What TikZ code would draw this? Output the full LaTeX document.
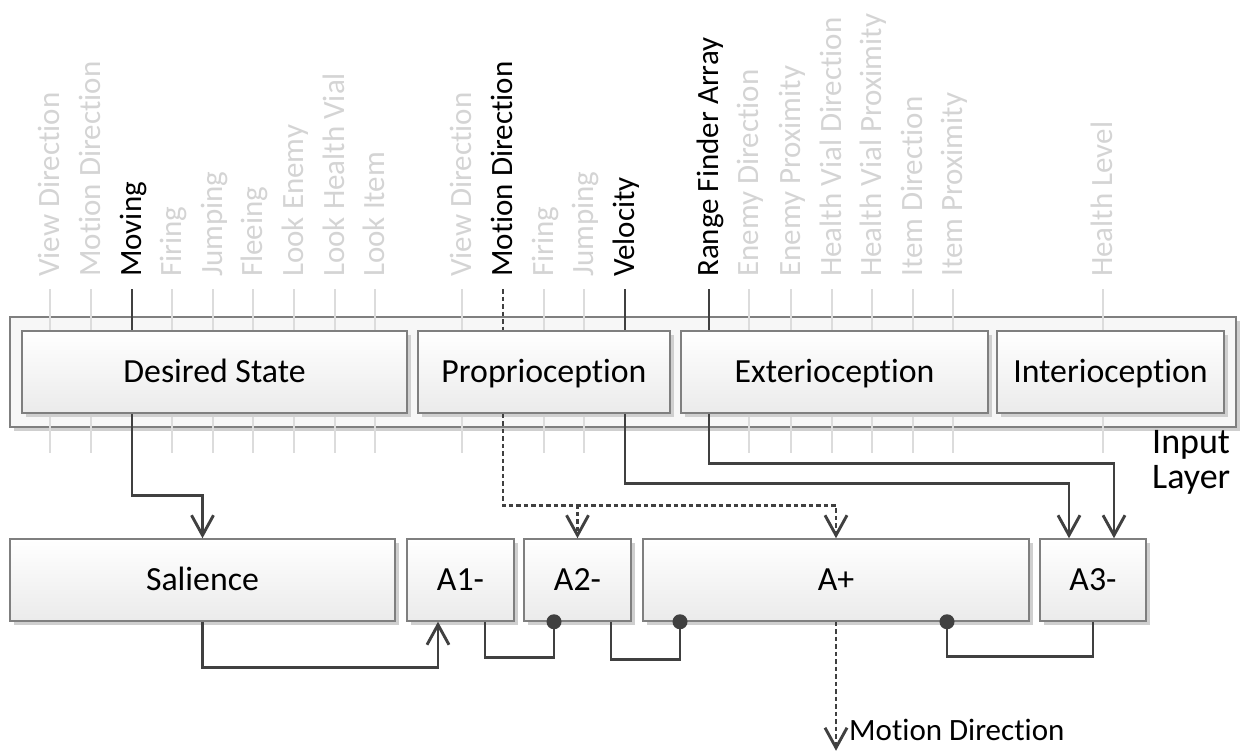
\documentclass[tikz,border=0pt]{standalone}
\usepackage{fontspec}
\setmainfont{Carlito}[Ligatures={NoCommon,NoRequired,NoContextual}]
\usetikzlibrary{arrows.meta,shadows}

\definecolor{linec}{HTML}{404040}
\definecolor{boxedge}{HTML}{7F7F7F}
\definecolor{faint}{HTML}{D4D4D4}
\definecolor{tickc}{HTML}{DCDCDC}
\definecolor{shadowc}{HTML}{CFCFCF}

\tikzset{
  unitbox/.style={draw=boxedge, line width=1.5pt, top color=white, bottom color=black!8,
    minimum height=82pt, inner sep=0pt, font=\fontsize{33.8}{34}\selectfont,
    text height=21.8pt, text depth=0pt,
    drop shadow={shadow xshift=4pt, shadow yshift=-4pt, fill=shadowc, opacity=1}},
  layerbox/.style={draw=boxedge, line width=1.5pt, fill=black!3, inner sep=0pt,
    minimum width=1226pt, minimum height=110pt,
    drop shadow={shadow xshift=4pt, shadow yshift=-4pt, fill=shadowc, opacity=1}},
  conn/.style={draw=linec, line width=2.9pt},
  dconn/.style={conn, dash pattern=on 4.5pt off 3pt},
  arr/.style={-{Straight Barb[length=20pt,width=22pt]}},
  tickline/.style={draw=tickc, line width=1.5pt},
  inlabel/.style={rotate=90, anchor=base west, inner sep=0pt, font=\fontsize{31}{31}\selectfont},
  plainlabel/.style={anchor=base west, inner sep=0pt},
}

\begin{document}
\begin{tikzpicture}[x=1pt,y=-1pt]
\useasboundingbox (0,0) rectangle (1250,752);

% input layer frame
\node[layerbox] (layer) at (623,372) {};

% input signals: coordinates and rotated names
\foreach \n/\x/\t/\c in {
  1/50/View Direction/faint, 2/91/Motion Direction/faint, 3/132/Moving/black,
  4/172/Firing/faint, 5/213/Jumping/faint, 6/253/Fleeing/faint,
  7/294/Look Enemy/faint, 8/335/Look Health Vial/faint, 9/375/Look Item/faint,
  10/462/View Direction/faint, 11/503/Motion Direction/black, 12/544/Firing/faint,
  13/584/Jumping/faint, 14/625/Velocity/black,
  15/709/Range Finder Array/black, 16/749/Enemy Direction/faint,
  17/791/Enemy Proximity/faint, 18/832/Health Vial Direction/faint,
  19/872/Health Vial Proximity/faint, 20/913/Item Direction/faint,
  21/953/Item Proximity/faint, 22/1103/Health Level/faint}
{
  \coordinate (t\n) at (\x,289);
  \node[inlabel, text=\c] (lab\n) at (\x+9,277) {\t};
}

% unused signal lines
\foreach \n in {1,2,4,5,6,7,8,9,10,12,13,16,17,18,19,20,21,22}
  \draw[tickline] (t\n) -- ++(0,164);

% input groups
\node[unitbox, minimum width=385pt] (ds) at (214.5,372) {Desired State};
\node[unitbox, minimum width=252pt] (pro) at (544,372) {Proprioception};
\node[unitbox, minimum width=307pt] (ext) at (834.5,372) {Exterioception};
\node[unitbox, minimum width=227pt] (int) at (1110.5,372) {Interioception};

\node[plainlabel, font=\fontsize{36}{36}\selectfont] (inlay1) at (1152,453) {Input};
\node[plainlabel, font=\fontsize{36}{36}\selectfont] (inlay2) at (1152,488) {Layer};

% processing units
\node[unitbox, minimum width=385pt] (sal) at (202.5,580) {Salience};
\node[unitbox, minimum width=107pt] (a1) at (460.5,580) {A1-};
\node[unitbox, minimum width=107pt] (a2) at (577.5,580) {A2-};
\node[unitbox, minimum width=386pt] (ap) at (836,580) {A+};
\node[unitbox, minimum width=106pt] (a3) at (1093,580) {A3-};

% active signals entering the groups
\draw[conn] (t3) -- (ds.north -| t3);
\draw[dconn] (t11) -- (pro.north -| t11);
\draw[conn] (t14) -- (pro.north -| t14);
\draw[conn] (t15) -- (ext.north -| t15);

% routes out of the input layer
\draw[conn,arr] (ds.south -| t3) -- ++(0,82) -| (sal.north);
\draw[conn,arr] (pro.south -| t14) -- ++(0,70) -| ([xshift=-24pt]a3.north);
\draw[conn,arr] (ext.south -| t15) -- ++(0,50) -| ([xshift=21pt]a3.north);
\draw[dconn,arr] (pro.south -| t11) -- ++(0,92) -| (ap.north);
\coordinate (mdj) at ([yshift=34pt]a2.north);
\draw[dconn,arr] (mdj) -- (a2.north);

% links between units
\draw[conn,arr] (sal.south) -- ++(0,46) -| ([xshift=-22.5pt]a1.south);
\draw[conn] ([xshift=24.5pt]a1.south) -- ++(0,36) -| ([xshift=-23.5pt]a2.south);
\fill[linec] ([xshift=-23.5pt]a2.south) circle (7.5);
\draw[conn] ([xshift=33.5pt]a2.south) -- ++(0,38) -| ([xshift=-156pt]ap.south);
\fill[linec] ([xshift=-156pt]ap.south) circle (7.5);
\draw[conn] (a3.south) -- ++(0,35) -| ([xshift=111pt]ap.south);
\fill[linec] ([xshift=111pt]ap.south) circle (7.5);

% output
\draw[dconn,arr] (ap.south) -- ++(0,129) coordinate (mdout);
\node[plainlabel, font=\fontsize{31}{31}\selectfont] (mdlbl) at (849,740) {Motion Direction};
\end{tikzpicture}
\end{document}
